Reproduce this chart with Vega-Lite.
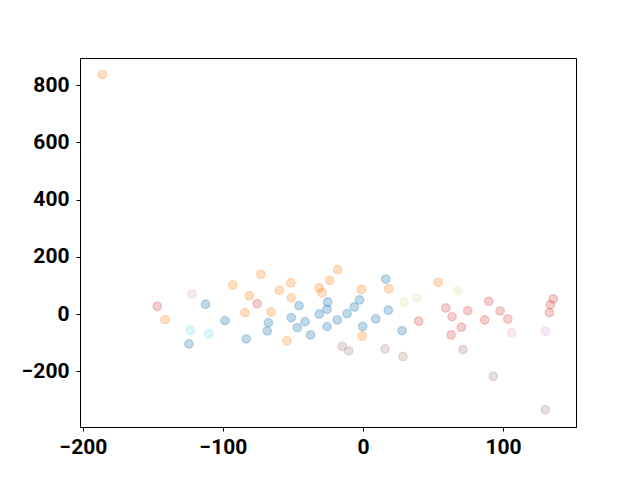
{
  "$schema": "https://vega.github.io/schema/vega-lite/v6.json",
  "autosize": "none",
  "width": 496,
  "height": 369,
  "padding": {"left": 80, "top": 58, "right": 64, "bottom": 53},
  "background": "white",
  "config": {
    "view": {"stroke": "black", "strokeWidth": 1},
    "axis": {
      "grid": false,
      "domainColor": "black",
      "domainWidth": 1,
      "tickColor": "black",
      "tickSize": 4,
      "tickWidth": 1,
      "labelFont": "Roboto",
      "labelFontWeight": "bold",
      "labelFontSize": 21,
      "labelColor": "black",
      "title": null
    },
    "axisX": {"labelPadding": 5},
    "axisY": {"labelPadding": 7}
  },
  "data": {
    "values": [
      {"x": -186.2, "y": 836.4, "g": "orange"},
      {"x": -141.4, "y": -19.5, "g": "orange"},
      {"x": -92.9, "y": 101.5, "g": "orange"},
      {"x": -81.2, "y": 64.2, "g": "orange"},
      {"x": -84.3, "y": 4.9, "g": "orange"},
      {"x": -72.9, "y": 138.8, "g": "orange"},
      {"x": -65.7, "y": 7.3, "g": "orange"},
      {"x": -59.8, "y": 83.0, "g": "orange"},
      {"x": -51.6, "y": 109.5, "g": "orange"},
      {"x": -51.2, "y": 57.2, "g": "orange"},
      {"x": -54.3, "y": -93.8, "g": "orange"},
      {"x": -18.1, "y": 154.9, "g": "orange"},
      {"x": -23.8, "y": 117.9, "g": "orange"},
      {"x": -31.4, "y": 91.0, "g": "orange"},
      {"x": -29.3, "y": 74.6, "g": "orange"},
      {"x": -1.1, "y": 85.8, "g": "orange"},
      {"x": -0.6, "y": -76.4, "g": "orange"},
      {"x": 18.4, "y": 88.6, "g": "orange"},
      {"x": 53.6, "y": 110.9, "g": "orange"},
      {"x": -112.4, "y": 34.2, "g": "blue"},
      {"x": -124.3, "y": -104.3, "g": "blue"},
      {"x": -98.6, "y": -23.0, "g": "blue"},
      {"x": -83.4, "y": -86.8, "g": "blue"},
      {"x": -67.6, "y": -30.0, "g": "blue"},
      {"x": -68.4, "y": -58.9, "g": "blue"},
      {"x": -51.2, "y": -12.6, "g": "blue"},
      {"x": -45.7, "y": 29.3, "g": "blue"},
      {"x": -46.9, "y": -47.4, "g": "blue"},
      {"x": -41.4, "y": -26.5, "g": "blue"},
      {"x": -37.4, "y": -72.9, "g": "blue"},
      {"x": -31.2, "y": 0.3, "g": "blue"},
      {"x": -25.2, "y": 42.2, "g": "blue"},
      {"x": -25.7, "y": 16.7, "g": "blue"},
      {"x": -25.7, "y": -43.9, "g": "blue"},
      {"x": -18.4, "y": -20.6, "g": "blue"},
      {"x": -11.4, "y": 1.4, "g": "blue"},
      {"x": -6.2, "y": 24.8, "g": "blue"},
      {"x": -2.5, "y": 49.2, "g": "blue"},
      {"x": -0.2, "y": -43.3, "g": "blue"},
      {"x": 16.2, "y": 122.4, "g": "blue"},
      {"x": 18.1, "y": 13.3, "g": "blue"},
      {"x": 9.1, "y": -17.1, "g": "blue"},
      {"x": 27.9, "y": -57.9, "g": "blue"},
      {"x": -146.9, "y": 27.2, "g": "red"},
      {"x": -75.6, "y": 36.3, "g": "red"},
      {"x": 39.8, "y": -25.1, "g": "red"},
      {"x": 59.1, "y": 21.3, "g": "red"},
      {"x": 63.6, "y": -9.1, "g": "red"},
      {"x": 74.8, "y": 11.9, "g": "red"},
      {"x": 70.2, "y": -46.0, "g": "red"},
      {"x": 62.9, "y": -72.9, "g": "red"},
      {"x": 89.8, "y": 44.6, "g": "red"},
      {"x": 86.9, "y": -20.6, "g": "red"},
      {"x": 97.9, "y": 10.8, "g": "red"},
      {"x": 103.4, "y": -17.1, "g": "red"},
      {"x": 135.9, "y": 52.7, "g": "red"},
      {"x": 133.8, "y": 32.8, "g": "red"},
      {"x": 133.1, "y": 4.9, "g": "red"},
      {"x": -14.8, "y": -113.0, "g": "brown"},
      {"x": -10.2, "y": -128.7, "g": "brown"},
      {"x": 15.7, "y": -121.7, "g": "brown"},
      {"x": 28.6, "y": -148.6, "g": "brown"},
      {"x": 71.4, "y": -124.2, "g": "brown"},
      {"x": 93.1, "y": -217.0, "g": "brown"},
      {"x": 130.2, "y": -334.5, "g": "brown"},
      {"x": -122.1, "y": 70.1, "g": "pink"},
      {"x": 106.2, "y": -64.9, "g": "pink"},
      {"x": 130.2, "y": -60.0, "g": "pink"},
      {"x": -123.4, "y": -56.5, "g": "cyan"},
      {"x": -110.2, "y": -68.4, "g": "cyan"},
      {"x": 29.3, "y": 41.2, "g": "olive"},
      {"x": 38.4, "y": 57.2, "g": "olive"},
      {"x": 67.6, "y": 81.6, "g": "olive"}
    ]
  },
  "mark": {"type": "point", "filled": true, "size": 72, "strokeWidth": 1.3},
  "encoding": {
    "x": {
      "field": "x", "type": "quantitative",
      "scale": {"domain": [-202.1, 152.1], "nice": false, "zero": false},
      "axis": {"values": [-200, -100, 0, 100], "format": "d"}
    },
    "y": {
      "field": "y", "type": "quantitative",
      "scale": {"domain": [-394.6, 894.6], "nice": false, "zero": false},
      "axis": {"values": [-200, 0, 200, 400, 600, 800], "format": "d"}
    },
    "color": {
      "field": "g", "type": "nominal", "legend": null,
      "scale": {
        "domain": ["blue", "orange", "red", "brown", "pink", "cyan", "olive"],
        "range": ["#1f77b4", "#ff7f0e", "#d62728", "#8c564b", "#e377c2", "#17becf", "#bcbd22"]
      }
    },
    "stroke": {
      "field": "g", "type": "nominal", "legend": null,
      "scale": {
        "domain": ["blue", "orange", "red", "brown", "pink", "cyan", "olive"],
        "range": ["#1f77b4", "#ff7f0e", "#d62728", "#8c564b", "#e377c2", "#17becf", "#bcbd22"]
      }
    },
    "fillOpacity": {
      "field": "g", "type": "nominal", "legend": null,
      "scale": {
        "domain": ["blue", "orange", "red", "brown", "pink", "cyan", "olive"],
        "range": [0.4, 0.15, 0.4, 0.4, 0.15, 0.17, 0.4]
      }
    },
    "strokeOpacity": {
      "field": "g", "type": "nominal", "legend": null,
      "scale": {
        "domain": ["blue", "orange", "red", "brown", "pink", "cyan", "olive"],
        "range": [0.4, 0.15, 0.4, 0.4, 0.15, 0.17, 0.4]
      }
    }
  }
}
